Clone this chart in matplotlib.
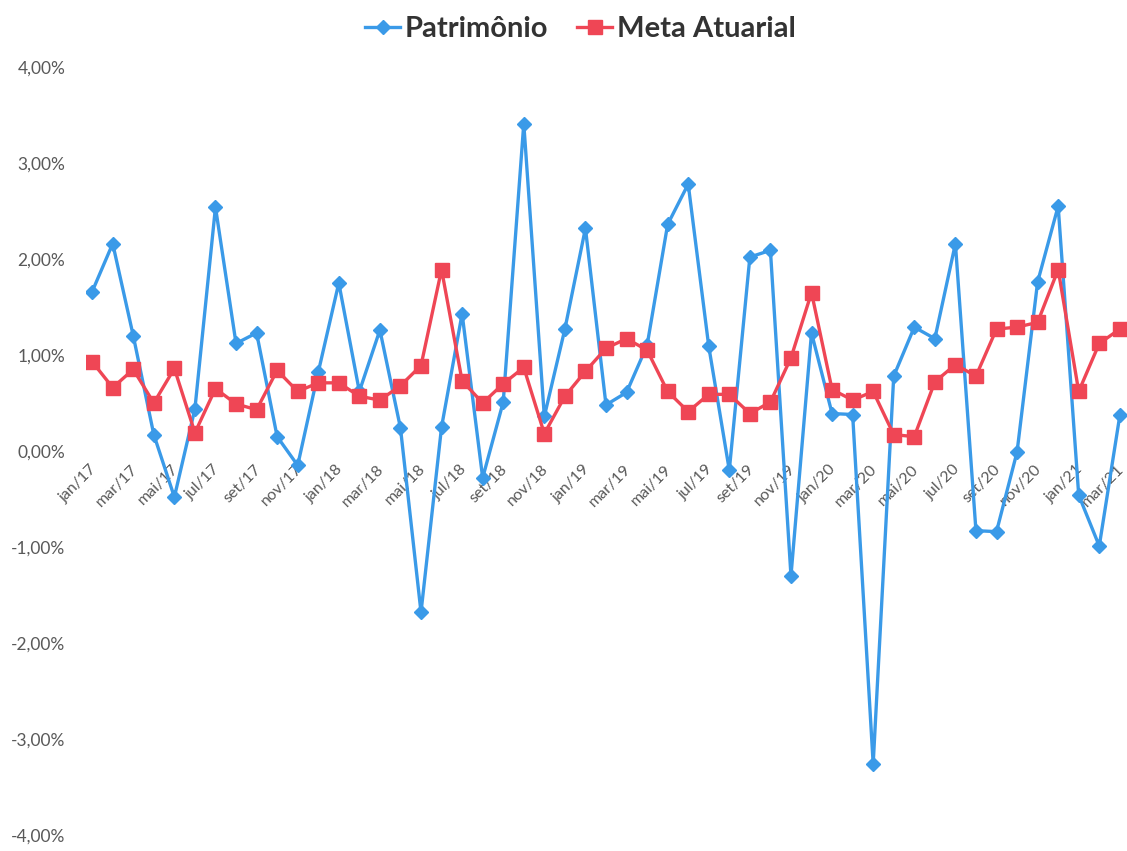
"""Patrimônio vs Meta Atuarial monthly returns."""

import matplotlib
matplotlib.use("Agg")
import matplotlib.pyplot as plt
import matplotlib.transforms as mtransforms
from matplotlib.ticker import FuncFormatter

months = ["jan", "fev", "mar", "abr", "mai", "jun",
          "jul", "ago", "set", "out", "nov", "dez"]
labels = [f"{months[i % 12]}/{17 + i // 12}" for i in range(51)]

patrimonio = [1.66, 2.16, 1.20, 0.17, -0.48, 0.44, 2.54, 1.12, 1.23, 0.15,
              -0.15, 0.82, 1.75, 0.62, 1.26, 0.24, -1.68, 0.25, 1.43, -0.28,
              0.51, 3.41, 0.36, 1.27, 2.32, 0.48, 0.61, 1.10, 2.36, 2.78,
              1.09, -0.20, 2.02, 2.09, -1.30, 1.23, 0.39, 0.38, -3.26, 0.78,
              1.29, 1.17, 2.16, -0.83, -0.84, -0.01, 1.76, 2.55, -0.46, -0.99,
              0.37]
meta = [0.93, 0.66, 0.85, 0.50, 0.86, 0.19, 0.65, 0.49, 0.43, 0.84,
        0.62, 0.71, 0.71, 0.57, 0.53, 0.68, 0.89, 1.89, 0.73, 0.50,
        0.70, 0.87, 0.18, 0.57, 0.83, 1.07, 1.17, 1.05, 0.62, 0.41,
        0.59, 0.59, 0.39, 0.51, 0.97, 1.65, 0.64, 0.53, 0.62, 0.17,
        0.15, 0.72, 0.90, 0.78, 1.27, 1.29, 1.34, 1.89, 0.62, 1.12,
        1.27]

BLUE = "#3A9AE8"
RED = "#EF4655"
TEXT = "#595959"

plt.rcParams["font.family"] = ["Lato", "DejaVu Sans"]

fig = plt.figure(figsize=(11.27, 8.51), dpi=100)
ax = fig.add_axes([0.0763, 0.0188, 0.9228, 0.9025])

x = list(range(len(labels)))
ax.plot(x, patrimonio, color=BLUE, linewidth=2.4, marker="D", markersize=7,
        label="Patrimônio")
ax.plot(x, meta, color=RED, linewidth=2.4, marker="s", markersize=9.5,
        label="Meta Atuarial")

ax.set_xlim(-0.3, 50.3)
ax.set_ylim(-4, 4)
ax.set_yticks([-4, -3, -2, -1, 0, 1, 2, 3, 4])
ax.yaxis.set_major_formatter(FuncFormatter(lambda v, _: f"{v:.2f}%".replace(".", ",")))
ax.tick_params(axis="y", length=0, pad=15, labelsize=12.5, labelcolor=TEXT)

ax.spines["bottom"].set_position(("data", 0))
for side in ["top", "right", "left", "bottom"]:
    ax.spines[side].set_visible(False)
ax.set_xticks(x[::2])
ax.set_xticklabels(labels[::2], rotation=45, ha="right", rotation_mode="anchor")
ax.tick_params(axis="x", length=0, pad=8, labelsize=11.5, labelcolor=TEXT)
shift = mtransforms.ScaledTranslation(-3 / 100, 0, fig.dpi_scale_trans)
for lbl in ax.get_xticklabels():
    lbl.set_transform(lbl.get_transform() + shift)

leg = fig.legend(loc="upper center", bbox_to_anchor=(0.515, 1.012), ncol=2,
                 frameon=False, prop={"size": 21, "weight": "bold"},
                 handlelength=1.2, columnspacing=1.0, handletextpad=0.15)
for t in leg.get_texts():
    t.set_color("#333333")

fig.savefig("out.png", dpi=100)
